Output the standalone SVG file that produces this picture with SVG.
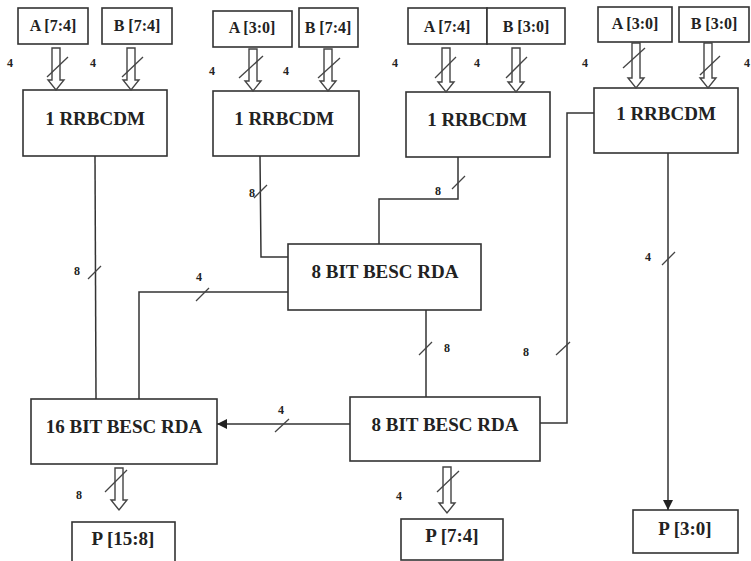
<svg xmlns="http://www.w3.org/2000/svg" width="751" height="561" viewBox="0 0 751 561">
<defs>
<style>
.box{fill:#fff;stroke:#333;stroke-width:1.6}
text{font-family:'Liberation Serif','Times New Roman','DejaVu Serif',serif;font-weight:bold;fill:#222;text-anchor:middle}
.big{font-size:19px}
.sm{font-size:16px}
.pp{font-size:19px}
.lbl{font-size:12px}
.w{fill:none;stroke:#333;stroke-width:1.5}
.h{fill:#fff;stroke:#444;stroke-width:1.4}
.s{stroke:#444;stroke-width:1.3}
</style>
<marker id="ah" viewBox="0 0 10 10" refX="10" refY="5" markerWidth="10" markerHeight="10" markerUnits="userSpaceOnUse" orient="auto">
<path d="M0,0 L10,5 L0,10 z" fill="#222"/>
</marker>
</defs>

<g id="inputs">
<g id="a74_1"><rect class="box" x="18" y="8" width="70" height="36"/><text class="sm" x="53" y="31">A [7:4]</text></g>
<g id="b74_1"><rect class="box" x="102" y="8" width="70" height="36"/><text class="sm" x="137" y="31">B [7:4]</text></g>
<g id="a30_2"><rect class="box" x="213" y="11" width="79" height="36"/><text class="sm" x="252" y="33">A [3:0]</text></g>
<g id="b74_2"><rect class="box" x="299" y="8" width="59" height="39"/><text class="sm" x="328" y="33">B [7:4]</text></g>
<g id="a74_3"><rect class="box" x="408" y="8" width="79" height="36"/><text class="sm" x="447" y="32">A [7:4]</text></g>
<g id="b30_3"><rect class="box" x="487" y="8" width="78" height="36"/><text class="sm" x="526" y="32">B [3:0]</text></g>
<g id="a30_4"><rect class="box" x="598" y="7" width="74" height="35"/><text class="sm" x="635" y="29">A [3:0]</text></g>
<g id="b30_4"><rect class="box" x="679" y="7" width="70" height="35"/><text class="sm" x="714" y="29">B [3:0]</text></g>
</g>

<g id="rrbcdm1"><rect class="box" x="23" y="90" width="144" height="66"/><text class="big" x="95" y="125">1 RRBCDM</text></g>
<g id="rrbcdm2"><rect class="box" x="213" y="91" width="146" height="65"/><text class="big" x="284" y="125">1 RRBCDM</text></g>
<g id="rrbcdm3"><rect class="box" x="406" y="92" width="144" height="65"/><text class="big" x="477" y="126">1 RRBCDM</text></g>
<g id="rrbcdm4"><rect class="box" x="594" y="88" width="144" height="65"/><text class="big" x="666" y="120">1 RRBCDM</text></g>

<g id="bda8_1"><rect class="box" x="288" y="244" width="193" height="66"/><text class="big" x="385" y="278">8 BIT BESC RDA</text></g>
<g id="bda8_2"><rect class="box" x="350" y="397" width="190" height="64"/><text class="big" x="445" y="431">8 BIT BESC RDA</text></g>
<g id="bda16"><rect class="box" x="31" y="399" width="186" height="65"/><text class="big" x="124" y="433">16 BIT BESC RDA</text></g>

<g id="p158"><rect class="box" x="72" y="522" width="103" height="45"/><text class="pp" x="123" y="545">P [15:8]</text></g>
<g id="p74"><rect class="box" x="401" y="519" width="102" height="41"/><text class="pp" x="452" y="542">P [7:4]</text></g>
<g id="p30"><rect class="box" x="633" y="510" width="105" height="43"/><text class="pp" x="685" y="535">P [3:0]</text></g>

<g id="connectors">
<path class="h" d="M52,48 H60 V80 H64 L56,90 L48,80 H52 Z"/>
<path class="h" d="M127,48 H135 V80 H139 L131,90 L123,80 H127 Z"/>
<path class="h" d="M249,49 H257 V81 H261 L253,91 L245,81 H249 Z"/>
<path class="h" d="M324,49 H332 V81 H336 L328,91 L320,81 H324 Z"/>
<path class="h" d="M442,48 H450 V82 H454 L446,92 L438,82 H442 Z"/>
<path class="h" d="M512,48 H520 V82 H524 L516,92 L508,82 H512 Z"/>
<path class="h" d="M632,43 H640 V78 H644 L636,88 L628,78 H632 Z"/>
<path class="h" d="M704,43 H712 V78 H716 L708,88 L700,78 H704 Z"/>
<path class="h" d="M115,468 H123 V500 H127 L119,510 L111,500 H115 Z"/>
<path class="h" d="M443,467 H451 V503 H455 L447,513 L439,503 H443 Z"/>
<line class="s" x1="47" y1="77" x2="68" y2="57"/>
<line class="s" x1="122" y1="77" x2="143" y2="57"/>
<line class="s" x1="239" y1="78" x2="263" y2="56"/>
<line class="s" x1="318" y1="78" x2="340" y2="58"/>
<line class="s" x1="435" y1="78" x2="456" y2="57"/>
<line class="s" x1="506" y1="78" x2="527" y2="57"/>
<line class="s" x1="623" y1="68" x2="645" y2="48"/>
<line class="s" x1="700" y1="75" x2="720" y2="56"/>
<line class="s" x1="105" y1="492" x2="127" y2="470"/>
<line class="s" x1="437" y1="492" x2="459" y2="471"/>
<polyline class="w" points="95,156 96,399"/>
<polyline class="w" points="260,156 261,257 288,257"/>
<polyline class="w" points="458,157 458,199 379,199 379,244"/>
<polyline class="w" points="288,292 139,292 139,399"/>
<polyline class="w" points="426,310 426,397"/>
<polyline class="w" points="594,113 567,113 567,423 540,423"/>
<line class="w" x1="350" y1="424" x2="217" y2="424" marker-end="url(#ah)"/>
<line class="w" x1="668" y1="153" x2="668" y2="510" marker-end="url(#ah)"/>
<line class="s" x1="88" y1="279" x2="101" y2="266"/>
<line class="s" x1="254" y1="198" x2="267" y2="185"/>
<line class="s" x1="452" y1="189" x2="465" y2="176"/>
<line class="s" x1="196" y1="301" x2="209" y2="288"/>
<line class="s" x1="419" y1="355" x2="432" y2="342"/>
<line class="s" x1="556" y1="355" x2="570" y2="342"/>
<line class="s" x1="662" y1="265" x2="675" y2="252"/>
<line class="s" x1="275" y1="432" x2="289" y2="419"/>
</g>

<g id="labels">
<text class="lbl" x="10" y="67">4</text>
<text class="lbl" x="93" y="67">4</text>
<text class="lbl" x="212" y="75">4</text>
<text class="lbl" x="286" y="75">4</text>
<text class="lbl" x="395" y="67">4</text>
<text class="lbl" x="477" y="67">4</text>
<text class="lbl" x="585" y="67">4</text>
<text class="lbl" x="747" y="67">4</text>
<text class="lbl" x="77" y="275">8</text>
<text class="lbl" x="252" y="197">8</text>
<text class="lbl" x="438" y="195">8</text>
<text class="lbl" x="199" y="281">4</text>
<text class="lbl" x="447" y="352">8</text>
<text class="lbl" x="526" y="356">8</text>
<text class="lbl" x="648" y="261">4</text>
<text class="lbl" x="281" y="414">4</text>
<text class="lbl" x="79" y="499">8</text>
<text class="lbl" x="399" y="500">4</text>
</g>
</svg>
